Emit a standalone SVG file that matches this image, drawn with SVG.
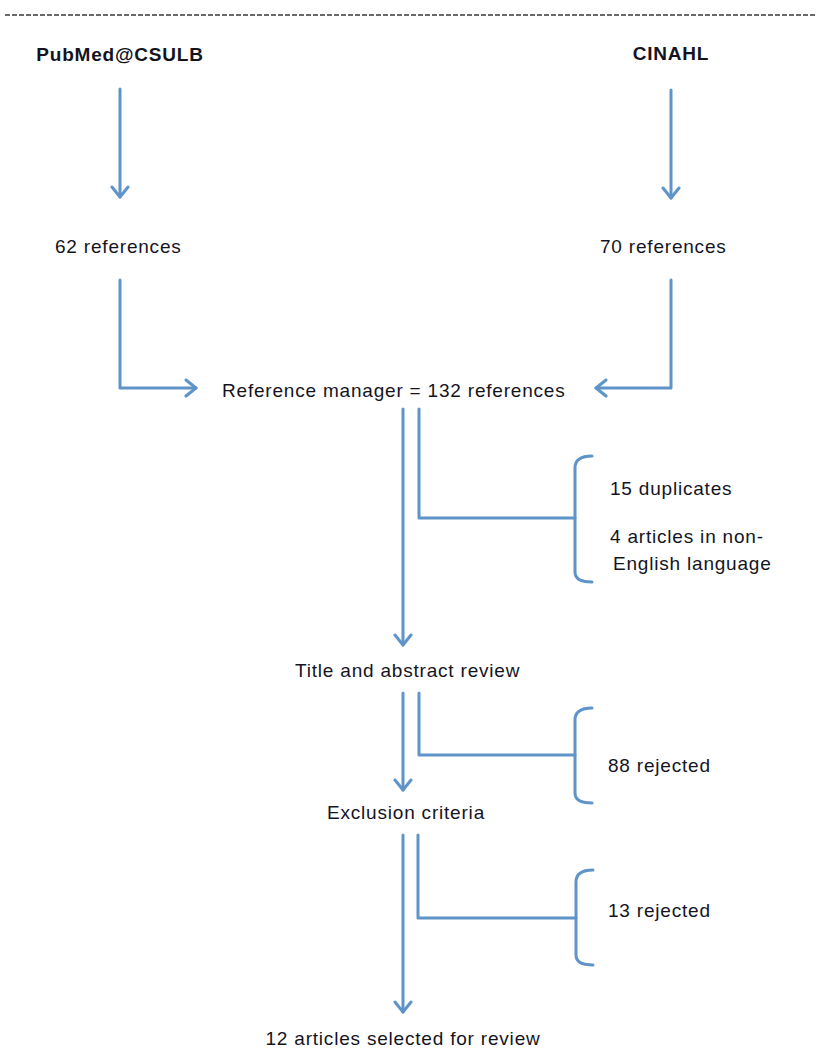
<svg xmlns="http://www.w3.org/2000/svg" width="816" height="1058" viewBox="0 0 816 1058">
<style>
text{font-family:"Liberation Sans",Arial,sans-serif;font-size:19px;fill:#14141f;letter-spacing:0.8px}
.b{font-weight:bold}
.c{fill:none;stroke:#5e94c8;stroke-width:3;stroke-linecap:round;stroke-linejoin:round}
</style>
<defs>
<marker id="ah" markerUnits="userSpaceOnUse" markerWidth="24" markerHeight="24" refX="12" refY="12" orient="auto">
<path d="M2,4 L12,12 L2,20" fill="none" stroke="#5e94c8" stroke-width="3" stroke-linecap="round" stroke-linejoin="round"/>
</marker>
</defs>
<rect width="816" height="1058" fill="#fff"/>
<line x1="5" y1="15" x2="816" y2="15" stroke="#6a6a6a" stroke-width="2" stroke-dasharray="5 2"/>
<g id="pubmed"><text class="b" x="120" y="61" text-anchor="middle">PubMed@CSULB</text></g>
<g id="cinahl"><text class="b" x="671" y="60" text-anchor="middle">CINAHL</text></g>
<g id="ref62"><text x="55" y="253">62 references</text></g>
<g id="ref70"><text x="600" y="253">70 references</text></g>
<g id="refmgr"><text x="222" y="397">Reference manager = 132 references</text></g>
<g id="excl1"><text x="610" y="495">15 duplicates</text><text x="610" y="543">4 articles in non-</text><text x="613" y="570">English language</text></g>
<g id="title"><text x="295" y="677">Title and abstract review</text></g>
<g id="excl2"><text x="608" y="772">88 rejected</text></g>
<g id="exclusion"><text x="327" y="819">Exclusion criteria</text></g>
<g id="excl3"><text x="608" y="917">13 rejected</text></g>
<g id="selected"><text x="403" y="1045" text-anchor="middle">12 articles selected for review</text></g>
<g id="connectors">
<path class="c" d="M120,89 V197" marker-end="url(#ah)"/>
<path class="c" d="M671,90 V198" marker-end="url(#ah)"/>
<path class="c" d="M120,280 V388 H196" marker-end="url(#ah)"/>
<path class="c" d="M671,280 V388 H596" marker-end="url(#ah)"/>
<path class="c" d="M403,409 V645" marker-end="url(#ah)"/>
<path class="c" d="M419,409 V518 H575"/>
<path class="c" d="M592,456 Q575,456 575,468 V572 Q575,582 592,582"/>
<path class="c" d="M403,693 V790" marker-end="url(#ah)"/>
<path class="c" d="M419,693 V755 H575"/>
<path class="c" d="M592,708 Q575,708 575,720 V793 Q575,803 592,803"/>
<path class="c" d="M403,835 V1012" marker-end="url(#ah)"/>
<path class="c" d="M418,835 V918 H576"/>
<path class="c" d="M593,870 Q576,870 576,882 V955 Q576,965 593,965"/>
</g>
</svg>
